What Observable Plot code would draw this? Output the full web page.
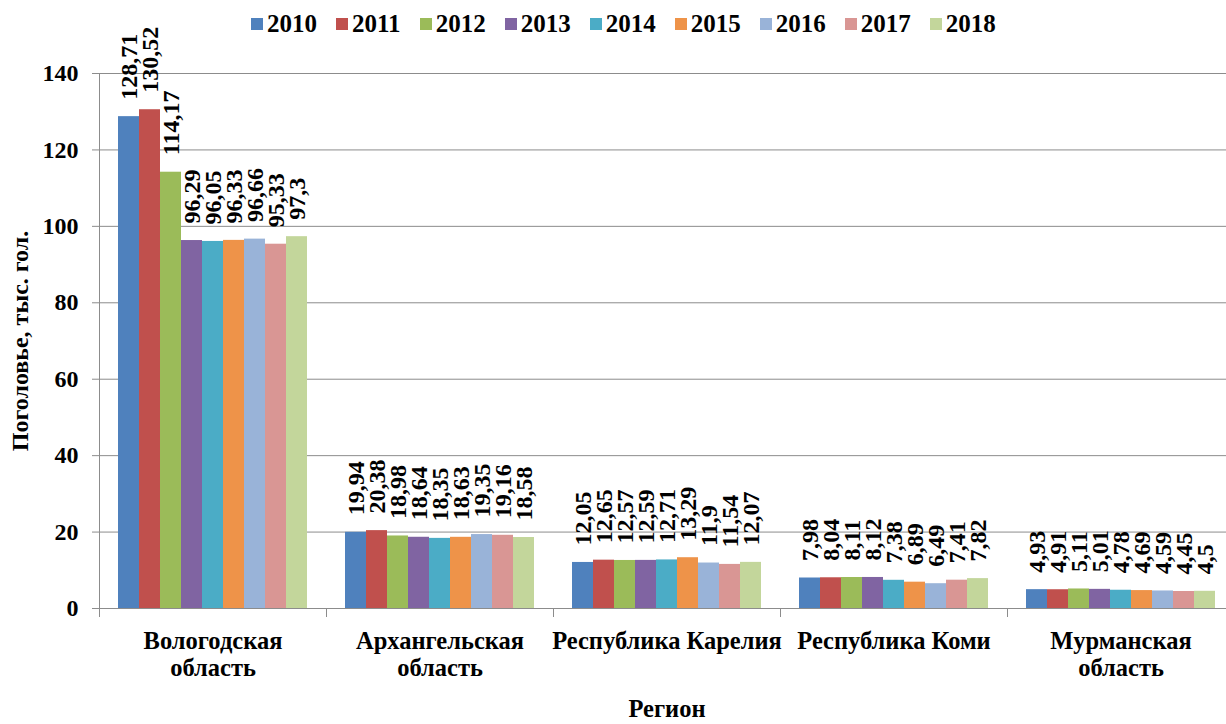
<!DOCTYPE html>
<html><head><meta charset="utf-8">
<script src="https://cdn.jsdelivr.net/npm/d3@7"></script>
<script src="https://cdn.jsdelivr.net/npm/@observablehq/plot@0.6"></script>
<style>
html,body{margin:0;padding:0;overflow:hidden;background:#fff;width:1226px;height:724px}
#wrap{position:relative;width:1226px;height:724px;overflow:hidden}
#legend{position:absolute;top:10px;left:251px;display:flex;align-items:center;font-family:"Liberation Serif",Tinos,"Times New Roman","DejaVu Serif",serif;font-weight:bold;font-size:25px;white-space:nowrap;color:#000}
.item{display:flex;align-items:center;margin-right:19px}
.sw{width:12px;height:12px;margin-right:4px}
#wrap svg{max-width:none}
#wrap svg text{font-family:"Liberation Serif",Tinos,"Times New Roman","DejaVu Serif",serif}
</style></head><body><div id="wrap"></div>
<script>
const regions = ["Вологодская область", "Архангельская область", "Республика Карелия", "Республика Коми", "Мурманская область"];
const regionLabels = ["Вологодская\nобласть", "Архангельская\nобласть", "Республика Карелия", "Республика Коми", "Мурманская\nобласть"];
const years = ["2010", "2011", "2012", "2013", "2014", "2015", "2016", "2017", "2018"];
const colors = ["#4F81BD", "#C0504D", "#9BBB59", "#8064A2", "#4BACC6", "#EE9349", "#99B3D8", "#D99694", "#C3D69B"];
const vologda = [128.71, 130.52, 114.17, 96.29, 96.05, 96.33, 96.66, 95.33, 97.3];
const arkhangelsk = [19.94, 20.38, 18.98, 18.64, 18.35, 18.63, 19.35, 19.16, 18.58];
const karelia = [12.05, 12.65, 12.57, 12.59, 12.71, 13.29, 11.9, 11.54, 12.07];
const komi = [7.98, 8.04, 8.11, 8.12, 7.38, 6.89, 6.49, 7.41, 7.82];
const murmansk = [4.93, 4.91, 5.11, 5.01, 4.78, 4.69, 4.59, 4.45, 4.5];
const yTicks = [0, 20, 40, 60, 80, 100, 120, 140];

const series = [vologda, arkhangelsk, karelia, komi, murmansk];
const data = regions.flatMap((r, i) => years.map((y, j) => ({region: r, year: y, value: series[i][j]})));
const labelMap = new Map(regions.map((r, i) => [r, regionLabels[i]]));
const font = '"Liberation Serif", Tinos, "Times New Roman", "DejaVu Serif", serif';

const chart = Plot.plot({
  width: 1240, height: 724,
  marginTop: 73, marginBottom: 116, marginLeft: 97, marginRight: 5,
  style: {fontFamily: font, background: "white", color: "black"},
  fx: {domain: regions, padding: 0},
  x: {domain: years, paddingInner: 0, paddingOuter: 0.72, axis: null},
  y: {domain: [0, 140], axis: null},
  color: {domain: years, range: colors},
  marks: [
    Plot.gridY(yTicks, {stroke: "#8c8c8c", strokeOpacity: 1}),
    Plot.frame({anchor: "left", insetTop: 535, insetBottom: -8, stroke: "#8c8c8c"}),
    Plot.frame({anchor: "left", facetAnchor: "left", insetBottom: -8, stroke: "#8c8c8c"}),
    Plot.barY(data, {fx: "region", x: "year", y: "value", fill: "year"}),
    Plot.text(data, {fx: "region", x: "year", y: "value", text: d => String(d.value).replace(".", ","),
      rotate: -90, textAnchor: "start", lineAnchor: "middle", dy: -17,
      fontFamily: font, fontSize: 24, fontWeight: "bold", fill: "black"}),
    Plot.axisY(yTicks, {tickSize: 7, tickPadding: 14, fontFamily: font, fontSize: 24, fontWeight: "bold", stroke: "#8c8c8c", fill: "black",
      label: "Поголовье, тыс. гол.", labelArrow: "none", labelAnchor: "center", labelOffset: 89}),
    Plot.axisFx({anchor: "bottom", tickSize: 0, tickPadding: 21, fontFamily: font, fontSize: 24.5, fontWeight: "bold", lineHeight: 1.12, fill: "black",
      tickFormat: d => labelMap.get(d), label: "Регион", labelArrow: "none", labelAnchor: "center", labelOffset: 108})
  ]
});
const wrap = document.getElementById("wrap");
wrap.appendChild(chart);

const legend = d3.select(wrap).append("div").attr("id", "legend");
const items = legend.selectAll(".item").data(years).join("div").attr("class", "item");
items.append("div").attr("class", "sw").style("background", (d, i) => colors[i]);
items.append("span").text(d => d);
</script></body></html>
